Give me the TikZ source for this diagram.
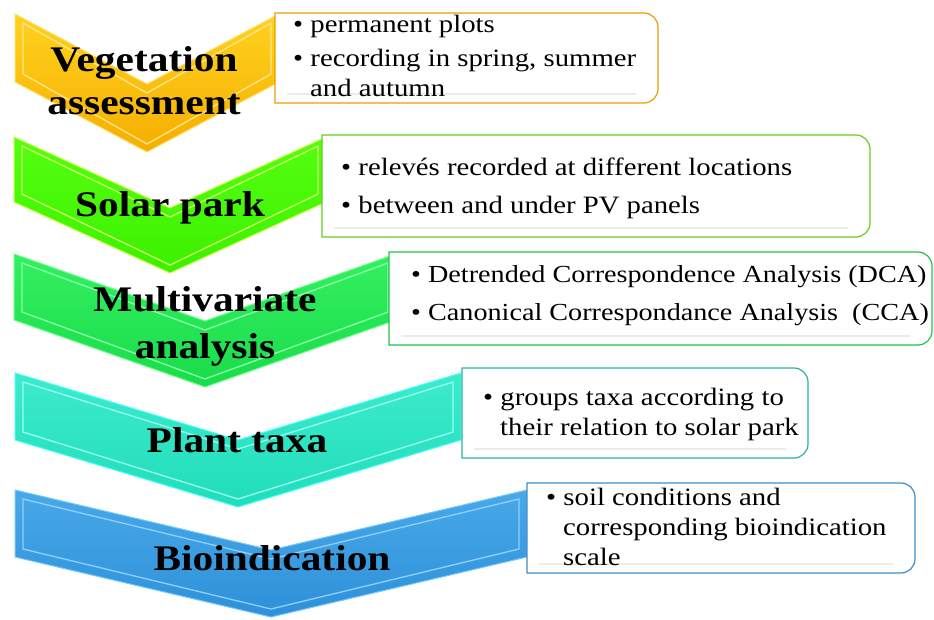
\documentclass[tikz,border=0pt]{standalone}
\usepackage{fontspec}
\setmainfont{Liberation Serif}[FakeStretch=1.15]
\definecolor{c1top}{HTML}{FFD21F}\definecolor{c1bot}{HTML}{F5AE00}\definecolor{c1edge}{HTML}{FFE066}\definecolor{c1bev}{HTML}{FFE68A}
\definecolor{c2top}{HTML}{55FF11}\definecolor{c2bot}{HTML}{3CF000}\definecolor{c2edge}{HTML}{C8FF40}\definecolor{c2bev}{HTML}{CCFF66}
\definecolor{c3top}{HTML}{33F060}\definecolor{c3bot}{HTML}{1ADB4A}\definecolor{c3edge}{HTML}{66FF88}\definecolor{c3bev}{HTML}{8CFFAA}
\definecolor{c4top}{HTML}{3DEBCB}\definecolor{c4bot}{HTML}{20DDBA}\definecolor{c4edge}{HTML}{40FFFF}\definecolor{c4bev}{HTML}{99FFF0}
\definecolor{c5top}{HTML}{48A8E8}\definecolor{c5bot}{HTML}{2E90D8}\definecolor{c5edge}{HTML}{70C8FF}\definecolor{c5bev}{HTML}{8FD0FF}
\definecolor{b1col}{HTML}{E5A000}\definecolor{b2col}{HTML}{66CC22}\definecolor{b3col}{HTML}{22C24A}\definecolor{b4col}{HTML}{2AB3A0}\definecolor{b5col}{HTML}{3F8CC4}
% #1 left x, #2 centre x, #3 top y, #4 side height, #5 notch depth, #6 colour prefix
\newcommand\chevron[6]{%
  \path[top color=#6top, bottom color=#6bot, draw=#6edge, line width=1]
    (#1,#3) -- (#2,{#3+#5}) -- ({2*#2-#1},#3) -- ({2*#2-#1},{#3+#4}) -- (#2,{#3+#4+#5}) -- (#1,{#3+#4}) -- cycle;
  \draw[#6bev, line width=1.3]
    ({#1+8},{#3+9}) -- (#2,{#3+#5+9}) -- ({2*#2-#1-8},{#3+9}) -- ({2*#2-#1-8},{#3+#4-8}) -- (#2,{#3+#4+#5-8}) -- ({#1+8},{#3+#4-8}) -- cycle;
}
% #1 x1, #2 y1, #3 x2, #4 y2, #5 colour
\newcommand\infobox[5]{%
  \draw[#5, line width=1.2, fill=white]
    (#1,#2) -- ({#3-14},#2) .. controls ({#3-6.3},#2) and (#3,{#2+6.3}) .. (#3,{#2+14})
    -- (#3,{#4-14}) .. controls (#3,{#4-6.3}) and ({#3-6.3},#4) .. ({#3-14},#4) -- (#1,#4) -- cycle;
  \draw[black!8, line width=2.5] ({#1+12},{#4-9}) -- ({#3-22},{#4-9});
}
\begin{document}
\begin{tikzpicture}[x=1pt,y=-1pt,
  lbl/.style={font=\fontsize{36}{43}\selectfont\bfseries, inner sep=0pt, anchor=base},
  itm/.style={font=\fontsize{25}{30}\selectfont, inner sep=0pt, anchor=base west},
  itms/.style={font=\fontsize{24.5}{30}\selectfont, inner sep=0pt, anchor=base west}]
\useasboundingbox (0,0) rectangle (934,620);
% chevrons
\chevron{15}{147}{14}{68}{70}{c1}
\chevron{14}{170}{137}{65}{71}{c2}
\chevron{14}{205}{254}{66}{67}{c3}
\chevron{15}{238}{373}{67}{67}{c4}
\chevron{15}{271}{490}{67}{60}{c5}
% boxes
\infobox{275}{13}{658}{103}{b1col}
\infobox{322}{135}{870}{237}{b2col}
\infobox{389}{252}{932}{345}{b3col}
\infobox{462}{368}{808}{458}{b4col}
\infobox{527}{483}{915}{573}{b5col}
% chevron labels
\node[lbl] (veg1) at (144,72) {Vegetation};
\node[lbl] (veg2) at (144,115) {assessment};
\node[lbl] (solar) at (170,217) {Solar park};
\node[lbl] (mult1) at (205,312) {Multivariate};
\node[lbl] (mult2) at (205,358) {analysis};
\node[lbl] (plant) at (237,452) {Plant taxa};
\node[lbl] (bio) at (272,570) {Bioindication};
% box texts
\node[itm] (ta1) at (293,33) {\textbullet\ permanent plots};
\node[itm] (ta2) at (293,67) {\textbullet\ recording in spring, summer};
\node[itm] (ta3) at (310,97) {and autumn};
\node[itm] (tb1) at (341,176) {\textbullet\ relevés recorded at different locations};
\node[itm] (tb2) at (341,214) {\textbullet\ between and under PV panels};
\node[itms] (tc1) at (411,283) {\textbullet\ Detrended Correspondence Analysis (DCA)};
\node[itms] (tc2) at (411,320) {\textbullet\ Canonical Correspondance Analysis\ \ (CCA)};
\node[itm] (td1) at (483,405) {\textbullet\ groups taxa according to};
\node[itm] (td2) at (500,435) {their relation to solar park};
\node[itm] (te1) at (546,505) {\textbullet\ soil conditions and};
\node[itm] (te2) at (563,535) {corresponding bioindication};
\node[itm] (te3) at (563,565) {scale};
\end{tikzpicture}
\end{document}
